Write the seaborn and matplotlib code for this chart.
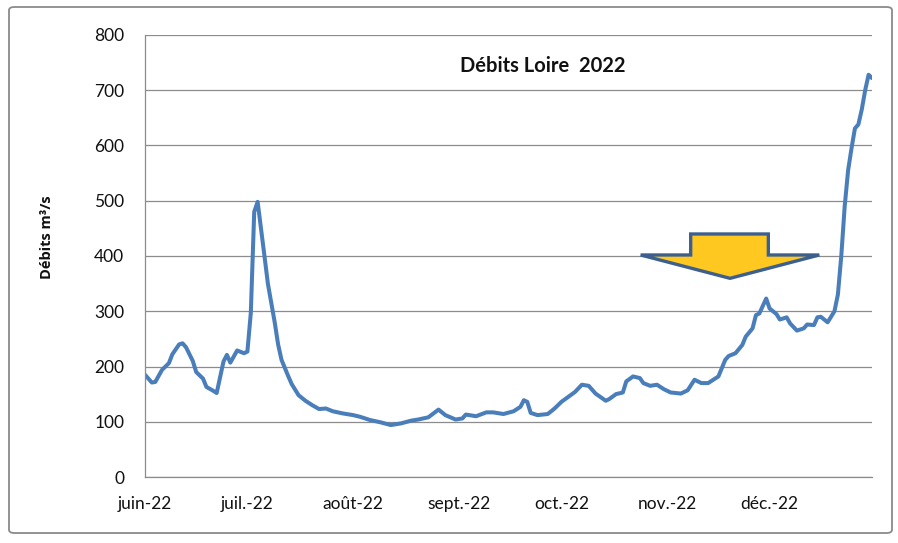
import numpy as np
import pandas as pd
import matplotlib
matplotlib.use("Agg")
import matplotlib.pyplot as plt
from matplotlib.patches import Polygon, FancyBboxPatch
import seaborn as sns

# Daily flow of the Loire, summer-autumn 2022 (days counted from 1 June 2022)
jours = [0, 2, 3, 5, 7, 8, 10, 11, 12, 14, 15, 17, 18, 20, 21, 23, 24, 25, 27, 29,
         30, 31, 32, 33, 35, 36, 38, 39, 40, 42, 43, 45, 47, 49, 51, 53, 55, 58, 61, 63,
         66, 69, 72, 75, 78, 80, 83, 86, 88, 91, 93, 94, 97, 100, 102, 105, 108, 110, 111, 112,
         113, 115, 118, 120, 122, 124, 126, 128, 130, 132, 135, 136, 138, 140, 141, 143, 145, 146, 148, 150,
         152, 154, 157, 159, 161, 163, 165, 168, 170, 171, 173, 175, 176, 178, 179, 180, 182, 183, 185, 186,
         188, 189, 191, 193, 194, 196, 197, 198, 200, 201, 202, 203, 204, 205, 206, 207, 208, 209, 210, 211,
         212, 213]
debits = [185, 171, 172, 194, 206, 222, 240, 242, 235, 210, 190, 178, 163, 156, 152, 209, 221, 207, 229, 224,
          227, 297, 480, 498, 400, 350, 280, 240, 212, 182, 168, 148, 138, 130, 123, 124, 119, 115, 112, 109,
          103, 99, 94, 97, 102, 104, 108, 122, 112, 104, 106, 113, 110, 117, 117, 114, 119, 127, 139, 136,
          116, 112, 114, 124, 136, 145, 154, 167, 165, 151, 138, 141, 150, 153, 173, 182, 179, 170, 165, 167,
          159, 153, 151, 157, 176, 170, 170, 182, 212, 219, 224, 239, 254, 269, 293, 296, 323, 305, 295, 285,
          289, 278, 265, 269, 276, 275, 289, 290, 280, 290, 300, 330, 400, 490, 555, 595, 631, 638, 665, 700,
          728, 722]

mois = ["juin-22", "juil.-22", "août-22", "sept.-22", "oct.-22", "nov.-22", "déc.-22"]
debuts_mois = ["2022-06-01", "2022-07-01", "2022-08-01", "2022-09-01",
               "2022-10-01", "2022-11-01", "2022-12-01"]
fin_periode = "2022-12-31"
graduations_y = [0, 100, 200, 300, 400, 500, 600, 700, 800]

origine = pd.Timestamp("2022-06-01")
df = pd.DataFrame({
    "date": origine + pd.to_timedelta(jours, unit="D"),
    "debit": debits,
})

sns.set_theme(style="white")
plt.rcParams["font.family"] = ["Lato", "DejaVu Sans"]

W, H = 898, 543
fig = plt.figure(figsize=(W / 100, H / 100), dpi=100)

# chart area frame
cadre = FancyBboxPatch((9 / W, 10 / H), (892 - 9) / W, (536 - 10) / H,
                       boxstyle="round,pad=0,rounding_size=0.006",
                       transform=fig.transFigure, fill=False,
                       edgecolor="#8a8a8a", linewidth=1.3)
fig.patches.append(cadre)

ax = fig.add_axes([145 / W, 1 - 477 / H, (872 - 145) / W, (477 - 35) / H])

sns.lineplot(data=df, x="date", y="debit", ax=ax, color="#4A7EBB",
             linewidth=2.9, solid_joinstyle="round", solid_capstyle="round")

grid_col = "#8c8c8c"
ax.set_ylim(0, 800)
ax.set_xlim(origine, pd.Timestamp(fin_periode))
ax.set_yticks(graduations_y)
ax.set_yticklabels([str(v) for v in graduations_y])
xt = pd.to_datetime(debuts_mois + [fin_periode])
ax.set_xticks(xt)
ax.set_xticklabels(mois + [""])

ax.yaxis.grid(True, color=grid_col, linewidth=0.9)
ax.xaxis.grid(False)
ax.set_axisbelow(True)
for s in ["top", "right"]:
    ax.spines[s].set_visible(False)
for s in ["left", "bottom"]:
    ax.spines[s].set_color(grid_col)
    ax.spines[s].set_linewidth(0.9)

ax.tick_params(axis="y", direction="out", length=5, width=0.9, color=grid_col,
               pad=10, labelsize=12.5, labelcolor="#111111")
ax.tick_params(axis="x", direction="out", length=5, width=0.9, color=grid_col,
               pad=9, labelsize=12.5, labelcolor="#111111")
ax.set_xlabel("")
ax.set_ylabel("Débits m³/s", fontsize=10.5, fontweight="bold", color="#111111",
              family=["Open Sans", "DejaVu Sans"])
ax.yaxis.set_label_coords(-0.125, 0.543)

ax.text(0.547, 0.93, "Débits Loire  2022", transform=ax.transAxes,
        ha="center", va="center", fontsize=14.5, fontweight="bold", color="#111111")

# block arrow pointing down
fleche = Polygon([(0.7506, 0.5498), (0.8574, 0.5498), (0.8574, 0.5023),
                  (0.9275, 0.5023), (0.8047, 0.4495), (0.6818, 0.5023),
                  (0.7506, 0.5023)], closed=True, transform=ax.transAxes,
                 facecolor="#FFC821", edgecolor="#3D5F8E", linewidth=2.4,
                 joinstyle="miter", zorder=3)
ax.add_patch(fleche)

fig.savefig("out.png", dpi=100)
